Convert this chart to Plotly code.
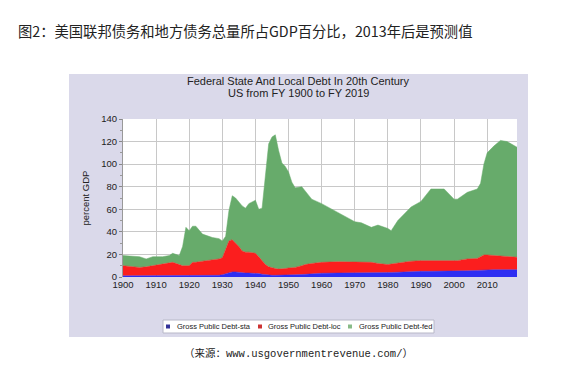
import numpy as np
import plotly.graph_objects as go

# ---- data (percent of GDP, cumulative stack tops) ----
years = [1900, 1903, 1905, 1907, 1909, 1912, 1914, 1915, 1917, 1918, 1919, 1920,
         1921, 1922, 1924, 1927, 1929, 1930, 1931, 1932, 1933, 1934, 1935, 1936,
         1937, 1938, 1940, 1941, 1942, 1943, 1944, 1945, 1946, 1947, 1948, 1949,
         1950, 1951, 1952, 1954, 1955, 1957, 1960, 1965, 1970, 1972, 1975, 1977,
         1980, 1981, 1983, 1985, 1987, 1990, 1993, 1997, 2000, 2001, 2004, 2007,
         2008, 2009, 2010, 2012, 2014, 2016, 2019]

total_top = [19, 18, 18, 16, 18, 18, 19, 21, 19, 27, 44, 41,
             45, 45, 38, 35, 34, 32, 36, 59, 72, 70, 66, 63,
             61, 65, 68, 60, 61, 89, 118, 124, 126, 112, 101, 98,
             93, 84, 79, 80, 76, 69, 65, 57, 49, 48, 44, 46,
             43, 41, 50, 56, 62, 67, 78, 78, 69, 69, 75, 78,
             83, 100, 110, 116, 121, 120, 115]

loc_top = [10, 9, 8.5, 9, 10, 11, 12, 13, 11, 10, 10, 10,
           13, 13, 14, 15, 16, 17, 25, 32, 33, 30, 27, 23,
           22, 22, 21, 18, 14, 11, 9, 8, 7.5, 7, 7, 7.5,
           8, 8, 8.5, 10, 11, 12, 13, 13.5, 13.5, 13.5, 13, 12,
           11, 11.5, 12.5, 13.5, 14, 14.5, 14.5, 14, 14, 14.5, 16, 16.5,
           18, 19.5, 19.5, 19, 18.5, 18, 17.5]

sta_top = [1, 1, 1, 1, 1, 1, 1, 1, 1, 1, 1, 1,
           1, 1, 1, 1, 1.5, 2, 3, 4, 4.5, 4.5, 4, 4,
           3.5, 3.5, 3.5, 3, 2.5, 2, 1.5, 1.5, 1.5, 1.5, 1.5, 1.5,
           1.5, 1.8, 2, 2.2, 2.4, 3, 3.3, 3.5, 3.5, 3.6, 3.8, 4,
           4, 4, 4.2, 4.6, 5, 5, 5, 5, 5, 5, 5.5, 5.8,
           6, 6.3, 6.5, 6.5, 6.5, 6.5, 6.5]

series_names = ["Gross Public Debt-sta", "Gross Public Debt-loc", "Gross Public Debt-fed"]
y_ticks = [0, 20, 40, 60, 80, 100, 120, 140]
x_ticks = list(range(1900, 2011, 10))

sta = np.array(sta_top, dtype=float)
loc = np.array(loc_top, dtype=float) - sta
fed = np.array(total_top, dtype=float) - np.array(loc_top, dtype=float)

fill_colors = ["#2e2ef2", "#fb1e1e", "#67ab6b"]
legend_colors = ["#333399", "#cc3333", "#88bb88"]

W, H = 564, 372
L, R, T, B = 123, 517, 119, 277  # plot area in pixels


def px(x):
    return (x - L) / (R - L)


def py(y):
    return (B - y) / (B - T)


FONT = "Arial, Liberation Sans, sans-serif"

fig = go.Figure()
for name, vals, col in zip(series_names, [sta, loc, fed], fill_colors):
    fig.add_trace(go.Scatter(
        x=years, y=vals, name=name, mode="lines", stackgroup="one",
        line=dict(width=0.5, color=col), fillcolor=col, showlegend=False,
        hoverinfo="x+y+name"))

shapes = [
    # lavender chart panel
    dict(type="rect", xref="paper", yref="paper", layer="below",
         x0=px(69), x1=px(528), y0=py(337), y1=py(74),
         fillcolor="#dad9ea", line=dict(width=0)),
    # white plotting area
    dict(type="rect", xref="x", yref="y", layer="below",
         x0=1900, x1=2019, y0=0, y1=140,
         fillcolor="white", line=dict(width=0)),
    # legend box
    dict(type="rect", xref="paper", yref="paper", layer="above",
         x0=px(163), x1=px(434), y0=py(333), y1=py(320),
         fillcolor="white", line=dict(width=1, color="#b8b8c8")),
]

annotations = [
    dict(text="图2：美国联邦债务和地方债务总量所占GDP百分比，2013年后是预测值",
         xref="paper", yref="paper", x=px(16), y=py(31), xanchor="left", yanchor="middle",
         showarrow=False, font=dict(family="Noto Sans CJK SC", size=14.3, color="#222")),
    dict(text="Federal State And Local Debt In 20th Century",
         xref="paper", yref="paper", x=px(298), y=py(81), xanchor="center", yanchor="middle",
         showarrow=False, font=dict(family=FONT, size=11, color="#222")),
    dict(text="US from FY 1900 to FY 2019",
         xref="paper", yref="paper", x=px(298), y=py(92.5), xanchor="center", yanchor="middle",
         showarrow=False, font=dict(family=FONT, size=11, color="#222")),
    dict(text="（来源：www.usgovernmentrevenue.com/）",
         xref="paper", yref="paper", x=px(298), y=py(353), xanchor="center", yanchor="middle",
         showarrow=False, font=dict(family="Liberation Mono, Noto Sans CJK SC", size=10.5, color="#222")),
]

# manual legend
marker_x = [168, 260, 350]
text_x = [175, 266, 357]
for i in range(3):
    shapes.append(dict(type="rect", xref="paper", yref="paper", layer="above",
                       x0=px(marker_x[i] - 2), x1=px(marker_x[i] + 2),
                       y0=py(328.5), y1=py(324.5),
                       fillcolor=legend_colors[i], line=dict(width=0)))
    annotations.append(dict(text=series_names[i], xref="paper", yref="paper",
                            x=px(text_x[i]), y=py(326.5), xanchor="left", yanchor="middle",
                            showarrow=False, font=dict(family=FONT, size=7.5, color="#222")))

fig.update_layout(
    width=W, height=H,
    margin=dict(l=L, r=W - R, t=T, b=H - B, pad=0),
    paper_bgcolor="white", plot_bgcolor="white",
    showlegend=False,
    shapes=shapes, annotations=annotations,
    font=dict(family=FONT, size=9, color="#222"),
)
fig.update_xaxes(range=[1900, 2019], tickvals=x_ticks, ticks="", showgrid=True,
                 gridcolor="#c8c8c8", gridwidth=1, zeroline=False, showline=False,
                 tickfont=dict(size=9.5, color="#222"))
fig.update_yaxes(range=[0, 140], tickvals=y_ticks, ticks="outside", ticklen=3,
                 tickcolor="#888", showgrid=True, gridcolor="#c8c8c8", gridwidth=1,
                 zeroline=False, showline=True, linecolor="#999", linewidth=1,
                 tickfont=dict(size=9.5, color="#222"),
                 minor=dict(dtick=10, ticks="outside", ticklen=2, tickcolor="#999", showgrid=False),
                 title=dict(text="percent GDP", standoff=9, font=dict(size=9.5, color="#222")))

fig.write_html("out.html", config={"displayModeBar": False},
               post_script="document.body.style.margin='0px';document.body.style.overflow='hidden';")
